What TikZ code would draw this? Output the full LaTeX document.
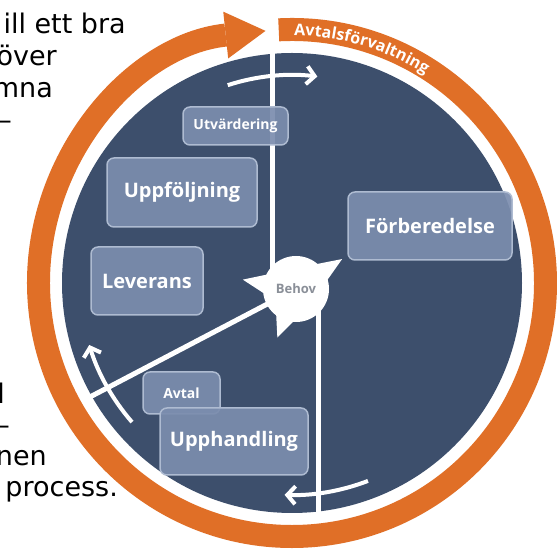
\documentclass[tikz,border=0pt]{standalone}
\usepackage{fontspec}
\setmainfont{DejaVu Sans}
\newfontfamily\phasefont{Open Sans}
\usepackage{xcolor}
\usepackage{tikz}
\usetikzlibrary{arrows.meta,decorations.text}

\definecolor{navy}{HTML}{3D4F6C}
\definecolor{ringorange}{HTML}{E06F27}
\definecolor{phasefill}{HTML}{7B8DAE}
\definecolor{phaseline}{HTML}{AEBBD1}
\definecolor{behovgray}{HTML}{8A8F98}

\begin{document}
\begin{tikzpicture}[
      x=1pt, y=1pt,
      phase/.style={draw=phaseline, line width=1.5pt, fill=phasefill, fill opacity=0.92, text opacity=1, rounded corners=7pt, text=white, inner sep=0pt, font=\phasefont\bfseries\fontsize{20}{20}\selectfont},
      small phase/.style={phase, font=\phasefont\bfseries\fontsize{14}{14}\selectfont},
      divider/.style={white, line width=5pt},
      cycle arrow/.style={white, line width=4pt, -{Straight Barb[length=8pt, width=18pt]}},
      body/.style={anchor=base east, inner sep=0pt, font=\fontsize{27}{27}\selectfont},
      >=Stealth
    ]
    \clip (0,0) rectangle (557,554);
    \fill[white] (0,0) rectangle (557,554);

    % text beside the wheel, cut by the edge
    \node[body] (t1) at (126,520) {ill ett bra};
    \node[body] (t2) at (57,488) {över};
    \node[body] (t3) at (53,456) {mna};
    \node[body] (t4) at (12,424) {–};
    \node[body] (t5) at (5,150) {l};
    \node[body] (t6) at (10,119) {–};
    \node[body] (t7) at (47,88) {nen};
    \node[body] (t8) at (118,57) {process.};

    \coordinate (c) at (292,271);
    \begin{scope}[shift={(c)}]
      \fill[navy] (0,0) circle[radius=230];
      \draw[ringorange, line width=23pt, -{Triangle[length=40pt, width=47pt, line width=0pt]}]
        (93:253.5) arc[start angle=93, end angle=-264, radius=253.5];
      \path[decorate, decoration={text along path, text align=left,
          text={|\phasefont\bfseries\fontsize{16}{16}\selectfont\color{white}|Avtalsförvaltning}}]
        (89.5:247.5) arc[start angle=89.5, end angle=35, radius=247.5];
      % the cycle
      \draw[cycle arrow] (108:208) arc[start angle=108, end angle=83, radius=208];
      \draw[cycle arrow] (-69:212) arc[start angle=-69, end angle=-92, radius=212];
      \draw[cycle arrow] (221:212) arc[start angle=221, end angle=197, radius=212];
    \end{scope}

    \coordinate (topend) at (272,514);
    \coordinate (bottomend) at (318,34);
    \coordinate (leftend) at (88,156);
    \coordinate (behovc) at (296,265);

    \draw[divider] (topend) -- (topend |- behovc);
    \draw[divider] (bottomend) -- (bottomend |- behovc);
    \draw[divider] (leftend) -- (behovc);

    % the need in the middle
    \begin{scope}[shift={(behovc)}]
      \fill[white] (170:54) -- (146:28) -- (196:28) -- cycle;
      \fill[white] (33:55) -- (8:28) -- (58:28) -- cycle;
      \fill[white] (249:52) -- (224:28) -- (274:28) -- cycle;
    \end{scope}
    \node[circle, fill=white, minimum size=66pt, inner sep=0pt, text=behovgray, font=\phasefont\bfseries\fontsize{13}{13}\selectfont] (behov) at (behovc) {Behov};

    % phases
    \node[small phase, minimum width=105pt, minimum height=38pt] (utv) at (235.5,428) {Utvärdering};
    \node[phase, minimum width=150pt, minimum height=69pt] (uppf) at (182,361.5) {Uppföljning};
    \node[phase, minimum width=112pt, minimum height=68pt] (lev) at (147,273) {Leverans};
    \node[phase, minimum width=164pt, minimum height=68pt] (forb) at (430,328) {Förberedelse};
    \node[small phase, minimum width=77pt, minimum height=42pt] (avtal) at (181.5,161) {Avtal};
    \node[phase, minimum width=148pt, minimum height=67pt] (upph) at (234,112.5) {Upphandling};
  \end{tikzpicture}
\end{document}
